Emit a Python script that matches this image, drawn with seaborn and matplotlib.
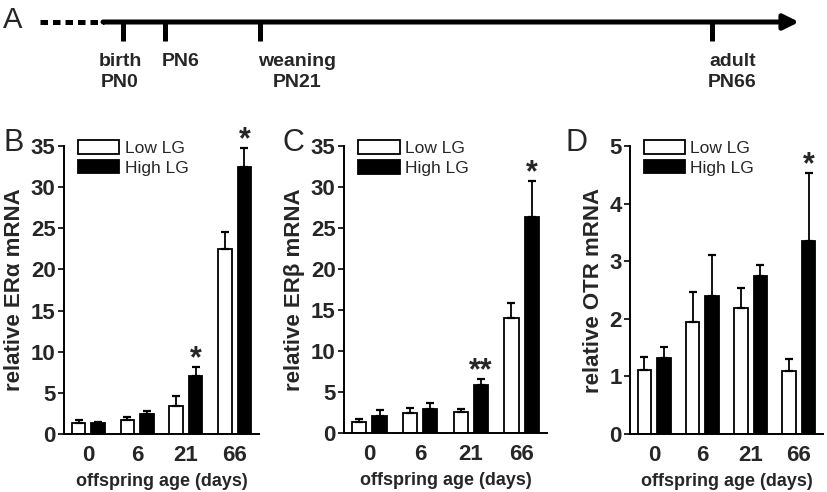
import numpy as np
import pandas as pd
import seaborn as sb
import matplotlib.pyplot as plt

# ---- data ----
ages = ["0", "6", "21", "66"]
groups = ["Low LG", "High LG"]

era_low = [1.3, 1.7, 3.35, 22.5]
era_low_err = [0.35, 0.4, 1.25, 2.0]
era_high = [1.3, 2.4, 7.0, 32.5]
era_high_err = [0.15, 0.35, 1.1, 2.2]
era_stars = ["", "", "*", "*"]

erb_low = [1.4, 2.4, 2.6, 14.0]
erb_low_err = [0.35, 0.65, 0.3, 1.8]
erb_high = [2.1, 2.9, 5.8, 26.4]
erb_high_err = [0.75, 0.8, 0.8, 4.3]
erb_stars = ["", "", "**", "*"]

otr_low = [1.11, 1.95, 2.19, 1.10]
otr_low_err = [0.23, 0.51, 0.35, 0.20]
otr_high = [1.32, 2.40, 2.75, 3.35]
otr_high_err = [0.19, 0.70, 0.19, 1.18]
otr_stars = ["", "", "", "*"]

events = ["birth\nPN0", "PN6", "weaning\nPN21", "adult\nPN66"]

sb.set_style("ticks")
plt.rcParams["font.family"] = ["Liberation Sans", "DejaVu Sans"]
narrow = ["Liberation Sans Narrow", "Liberation Sans", "DejaVu Sans"]

fig = plt.figure(figsize=(8.27, 4.92), dpi=100)


def to_frame(low, high):
    return pd.DataFrame({
        "age": ages * 2,
        "group": [groups[0]] * 4 + [groups[1]] * 4,
        "value": list(low) + list(high),
    })


def bar_panel(rect, low, low_err, high, high_err, stars, ylim, yticks, ylabel):
    ax = fig.add_axes(rect)
    df = to_frame(low, high)
    sb.barplot(data=df, x="age", y="value", hue="group", order=ages, hue_order=groups,
               palette=["white", "black"], edgecolor="black", linewidth=1.3,
               width=0.8, gap=0.3, errorbar=None, legend=False, ax=ax)

    # upper error bars only, placed on the drawn bars
    tops = []
    for cont, errs in zip(ax.containers, [low_err, high_err]):
        xs = [b.get_x() + b.get_width() / 2 for b in cont]
        hs = [b.get_height() for b in cont]
        ax.errorbar(xs, hs, yerr=[np.zeros(len(errs)), errs], fmt="none", ecolor="black",
                    elinewidth=1.3, capsize=3, capthick=1.6, zorder=1)
        tops.append((xs, [h + e for h, e in zip(hs, errs)]))

    # significance marks above the High LG bars
    xs, ys = tops[1]
    for x, y, s in zip(xs, ys, stars):
        if s:
            ax.annotate(s, (x, y), xytext=(0, -5), textcoords="offset points",
                        ha="center", va="bottom", fontsize=22, fontweight="bold",
                        annotation_clip=False)

    ax.set_ylim(*ylim)
    ax.set_yticks(yticks)
    ax.set_xlim(-0.5, 3.5)
    ax.set_ylabel(ylabel, fontsize=16, fontweight="bold", labelpad=4)
    ax.set_xlabel("offspring age (days)", fontsize=13, fontweight="bold", labelpad=5)
    for lab in ax.get_xticklabels() + ax.get_yticklabels():
        lab.set_fontweight("bold")
        lab.set_fontsize(16)
    ax.tick_params(axis="x", length=0, pad=8)
    ax.tick_params(axis="y", length=4, width=1.4, pad=2)
    sb.despine(ax=ax)
    for sp in ["left", "bottom"]:
        ax.spines[sp].set_linewidth(1.4)
        ax.spines[sp].set_color("black")

    ax.legend(ax.containers, groups, loc="upper left", bbox_to_anchor=(0.07, 1.02),
              frameon=False, fontsize=12.5, handlelength=2.4, handleheight=0.85,
              handletextpad=0.3, labelspacing=0.2, borderpad=0, borderaxespad=0)
    return ax


bar_panel([64 / 827, 58 / 492, 195 / 827, 288 / 492], era_low, era_low_err, era_high,
          era_high_err, era_stars, (0, 35), range(0, 36, 5), "relative ERα mRNA")
bar_panel([344 / 827, 59 / 492, 203 / 827, 287 / 492], erb_low, erb_low_err, erb_high,
          erb_high_err, erb_stars, (0, 35), range(0, 36, 5), "relative ERβ mRNA")
bar_panel([630 / 827, 58 / 492, 193 / 827, 288 / 492], otr_low, otr_low_err, otr_high,
          otr_high_err, otr_stars, (0, 5), range(0, 6), "relative OTR mRNA")

# panel letters
for lx, letter in zip([3, 282, 566], ["B", "C", "D"]):
    fig.text(lx / 827, 1 - 143 / 492, letter, fontsize=22, ha="left", va="center")

# ---- panel A: timeline, drawn in pixel units of the top strip ----
ax_a = fig.add_axes([0, 1 - 110 / 492, 1, 110 / 492])
ax_a.set_xlim(0, 827)
ax_a.set_ylim(110, 0)
ax_a.axis("off")
ax_a.patch.set_alpha(0)

ax_a.plot([40, 104], [22, 22], color="black", lw=3.6, linestyle=(0, (1.5, 1.0)),
          solid_capstyle="butt", dash_capstyle="butt")
ax_a.annotate("", xy=(799, 22), xytext=(103, 22),
              arrowprops=dict(arrowstyle="-|>,head_length=0.9,head_width=0.45",
                              lw=3.6, color="black", shrinkA=0, shrinkB=0))
tick_x = [123, 165, 260, 712]
label_x = [120, 162, 258, 708]
label_ha = ["center", "left", "left", "left"]
for tx, lx, ha, ev in zip(tick_x, label_x, label_ha, events):
    ax_a.plot([tx, tx], [22, 41], color="black", lw=3.6, solid_capstyle="butt")
    ax_a.text(lx, 53, ev, ha=ha, va="top", ma="center", fontsize=14,
              fontweight="bold", family=narrow, linespacing=1.3)
ax_a.text(3, 20, "A", fontsize=21, ha="left", va="center")

plt.savefig("out.png", dpi=100)
